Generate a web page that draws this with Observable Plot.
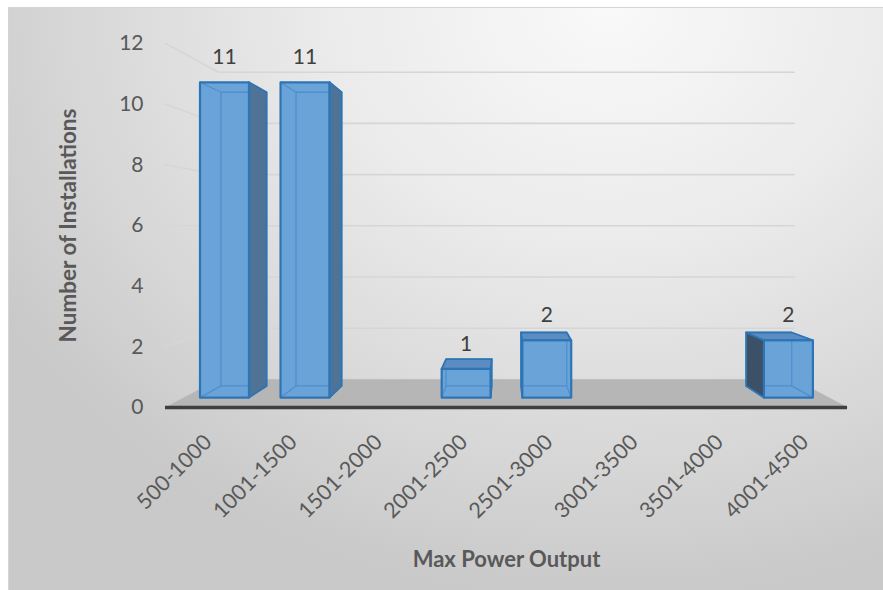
<!DOCTYPE html>
<html><head><meta charset="utf-8">
<script src="https://cdn.jsdelivr.net/npm/d3@7"></script>
<script src="https://cdn.jsdelivr.net/npm/@observablehq/plot@0.6"></script>
<style>
html,body{margin:0;padding:0;background:#fff;width:883px;height:590px;overflow:hidden;}
#bg{position:absolute;left:8px;top:7px;width:880px;height:590px;border-top:1px solid #d4d4d4;border-left:1px solid #d4d4d4;
background:radial-gradient(ellipse 80% 100% at 68% 0%, #f9f9f9 0%, #ebebeb 40%, #d6d6d6 78%, #c9c9c9 100%);}
#chart{position:absolute;left:0;top:0;}
</style></head><body><div id="bg"></div><div id="chart"></div>
<script>
const categories = ["500-1000","1001-1500","1501-2000","2001-2500","2501-3000","3001-3500","3501-4000","4001-4500"];
const installations = [11, 11, 0, 1, 2, 0, 0, 2];
const yTicks = [0, 2, 4, 6, 8, 10, 12];

// perspective layout constants (data units of the front plane)
const VX = 3.488, VY = 5.934;       // vanishing point
const SF = 0.945, SB = 0.88, SW = 0.844; // depth scale: bar front, bar back, back wall
const HW = 0.304;                    // half bar width
const XMIN = -0.5, XMAX = 7.5;
const P = (x, y, s) => ({x: VX + (x - VX) * s, y: VY + (y - VY) * s});

// gridlines (left wall + back wall)
const grid = [];
yTicks.filter(v => v > 0).forEach(v => {
  [P(XMIN, v, 1), P(XMIN, v, SW), P(XMAX, v, SW)].forEach(p => grid.push({k: v, ...p}));
});
// floor
const floorPts = [P(XMIN,0,1), P(XMAX,0,1), P(XMAX,0,SW), P(XMIN,0,SW), P(XMIN,0,1)];

// bar faces
const faces = {front: [], right: [], left: [], top: [], inner: [], labels: []};
installations.forEach((v, i) => {
  if (v <= 0) return;
  const fl = i - HW, fr = i + HW;
  const FBL = P(fl,0,SF), FBR = P(fr,0,SF), FTR = P(fr,v,SF), FTL = P(fl,v,SF);
  const BBL = P(fl,0,SB), BBR = P(fr,0,SB), BTR = P(fr,v,SB), BTL = P(fl,v,SB);
  const add = (arr, key, pts) => pts.forEach(p => arr.push({k: key, ...p}));
  add(faces.front, "f" + i, [FBL, FBR, FTR, FTL, FBL]);
  add(faces.inner, "b" + i, [BBL, BBR, BTR, BTL, BBL]);
  add(faces.inner, "c1" + i, [FBL, BBL]);
  add(faces.inner, "c2" + i, [FBR, BBR]);
  add(faces.inner, "c3" + i, [FTR, BTR]);
  add(faces.inner, "c4" + i, [FTL, BTL]);
  if (fr < VX) add(faces.right, "r" + i, [FBR, BBR, BTR, FTR, FBR]);
  if (fl > VX) add(faces.left, "l" + i, [FBL, BBL, BTL, FTL, FBL]);
  if (v < VY) add(faces.top, "t" + i, [FTL, FTR, BTR, BTL, FTL]);
  faces.labels.push({v, ...P(i, v, SF)});
});

const chart = Plot.plot({
  width: 883, height: 590,
  marginLeft: 165, marginRight: 36, marginTop: 43, marginBottom: 183,
  style: {background: "transparent", fontFamily: "Lato, 'Open Sans', sans-serif"},
  x: {type: "linear", domain: [XMIN, XMAX], axis: null},
  y: {type: "linear", domain: [0, 12], axis: null},
  marks: [
    Plot.line(grid, {x: "x", y: "y", z: "k", stroke: "#d6d6d6", strokeWidth: 1.6}),
    Plot.line(floorPts, {x: "x", y: "y", fill: "#b6b6b6", stroke: "#b0b0b0", strokeWidth: 0.5}),
    Plot.ruleY([0], {stroke: "#3f3f3f", strokeWidth: 3.5}),
    Plot.line(faces.front, {x: "x", y: "y", z: "k", fill: "#6aa3d8", stroke: "none"}),
    Plot.line(faces.inner, {x: "x", y: "y", z: "k", stroke: "#4f8fcd", strokeWidth: 1.3}),
    Plot.line(faces.right, {x: "x", y: "y", z: "k", fill: "#4e7397", stroke: "#2e75b6", strokeWidth: 1.8}),
    Plot.line(faces.left, {x: "x", y: "y", z: "k", fill: "#3c5167", stroke: "#2e75b6", strokeWidth: 1.8}),
    Plot.line(faces.top, {x: "x", y: "y", z: "k", fill: "#5b8dc2", stroke: "#2e75b6", strokeWidth: 1.8}),
    Plot.line(faces.front, {x: "x", y: "y", z: "k", stroke: "#2e75b6", strokeWidth: 2.2}),
    Plot.text(faces.labels, {x: "x", y: "y", text: "v", dy: -25, fontSize: 21, fill: "#404040"}),
    Plot.axisY(yTicks, {tickSize: 0, tickPadding: 22, fontSize: 21, fill: "#595959", label: null}),
    Plot.axisX(d3.range(categories.length), {tickFormat: i => categories[i], tickRotate: -45, tickSize: 0, tickPadding: 31, fontSize: 21.5, fill: "#595959", label: null}),
    Plot.text(["Number of Installations"], {frameAnchor: "left", textAnchor: "middle", lineAnchor: "middle", dx: -97, rotate: -90, fontSize: 22.5, fontWeight: "bold", fill: "#595959"}),
    Plot.text(["Max Power Output"], {frameAnchor: "bottom", textAnchor: "middle", lineAnchor: "middle", dy: 152, fontSize: 22, fontWeight: "bold", fill: "#595959"})
  ]
});
document.getElementById("chart").appendChild(chart);
</script>
</body></html>
